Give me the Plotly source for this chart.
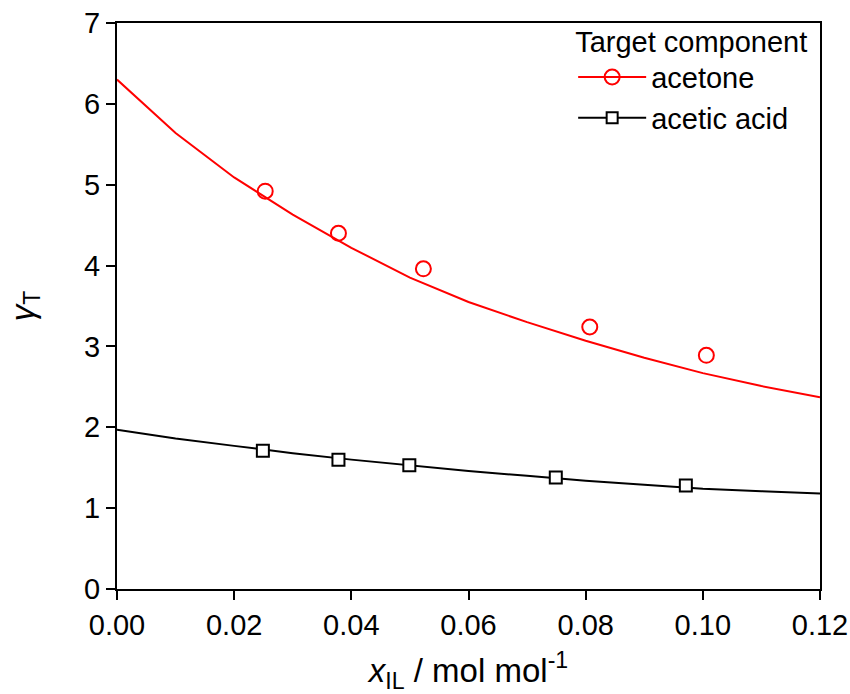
import plotly.graph_objects as go

# Model curves (computed line)
x_curve = [0.00, 0.01, 0.02, 0.03, 0.04, 0.05, 0.06, 0.07, 0.08, 0.09, 0.10, 0.11, 0.12]
acetone_curve = [6.30, 5.64, 5.09, 4.63, 4.22, 3.85, 3.55, 3.30, 3.07, 2.86, 2.67, 2.51, 2.37]
acetic_curve = [1.97, 1.86, 1.77, 1.68, 1.60, 1.53, 1.46, 1.40, 1.34, 1.29, 1.24, 1.21, 1.18]

# Experimental points
acetone_x = [0.0253, 0.0378, 0.0523, 0.0807, 0.1006]
acetone_y = [4.92, 4.40, 3.96, 3.24, 2.89]
acetic_x = [0.0249, 0.0378, 0.0499, 0.0749, 0.0971]
acetic_y = [1.71, 1.60, 1.53, 1.38, 1.28]

x_ticks = [0.00, 0.02, 0.04, 0.06, 0.08, 0.10, 0.12]
y_ticks = [0, 1, 2, 3, 4, 5, 6, 7]

FONT = "Liberation Sans, Arial, sans-serif"
FS = 29
TFS = 33
RED = "#ff0000"
BLACK = "#000000"

fig = go.Figure()

# Legend entries (line + marker)
fig.add_trace(go.Scatter(x=[None], y=[None], mode="lines+markers", name="acetone",
                         line=dict(color=RED, width=2),
                         marker=dict(symbol="circle-open", size=15, color=RED, line=dict(width=2, color=RED)),
                         showlegend=True))
fig.add_trace(go.Scatter(x=[None], y=[None], mode="lines+markers", name="acetic acid",
                         line=dict(color=BLACK, width=2),
                         marker=dict(symbol="square", size=11, color="white", line=dict(width=2, color=BLACK)),
                         showlegend=True))

# Curves
fig.add_trace(go.Scatter(x=x_curve, y=acetone_curve, mode="lines",
                         line=dict(color=RED, width=2), showlegend=False))
fig.add_trace(go.Scatter(x=x_curve, y=acetic_curve, mode="lines",
                         line=dict(color=BLACK, width=2), showlegend=False))

# Points
fig.add_trace(go.Scatter(x=acetone_x, y=acetone_y, mode="markers",
                         marker=dict(symbol="circle-open", size=15, color=RED, line=dict(width=2, color=RED)),
                         showlegend=False, cliponaxis=False))
fig.add_trace(go.Scatter(x=acetic_x, y=acetic_y, mode="markers",
                         marker=dict(symbol="square", size=12, color="white", line=dict(width=2, color=BLACK)),
                         showlegend=False, cliponaxis=False))

fig.update_layout(
    width=850, height=694,
    margin=dict(l=117, r=30, t=23, b=105),
    paper_bgcolor="white", plot_bgcolor="white",
    font=dict(family=FONT, size=FS, color="black"),
    legend=dict(
        title=dict(text="Target component", font=dict(size=FS, family=FONT)),
        x=0.986, xanchor="right", y=1.016, yanchor="top",
        bgcolor="rgba(0,0,0,0)", borderwidth=0,
        itemwidth=68, tracegroupgap=0,
        font=dict(size=FS, family=FONT),
    ),
    xaxis=dict(
        range=[0, 0.12], tickvals=x_ticks, tickformat=".2f",
        showgrid=False, zeroline=False, automargin=False,
        showline=True, linecolor="black", linewidth=2, mirror=True,
        ticks="outside", ticklen=9, tickwidth=2, tickcolor="black",
        tickfont=dict(size=FS, family=FONT),
        title=dict(text="<i>x</i><sub>IL</sub> / mol mol<sup>-1</sup>",
                   font=dict(size=TFS, family=FONT), standoff=38),
    ),
    yaxis=dict(
        range=[0, 7], tickvals=y_ticks,
        showgrid=False, zeroline=False, automargin=False,
        showline=True, linecolor="black", linewidth=2, mirror=True,
        ticks="outside", ticklen=9, tickwidth=2, tickcolor="black",
        tickfont=dict(size=FS, family=FONT),
        title=dict(text="<i>γ</i><sub>T</sub>", font=dict(size=TFS, family=FONT), standoff=40),
    ),
)

fig.write_html("out.html")
